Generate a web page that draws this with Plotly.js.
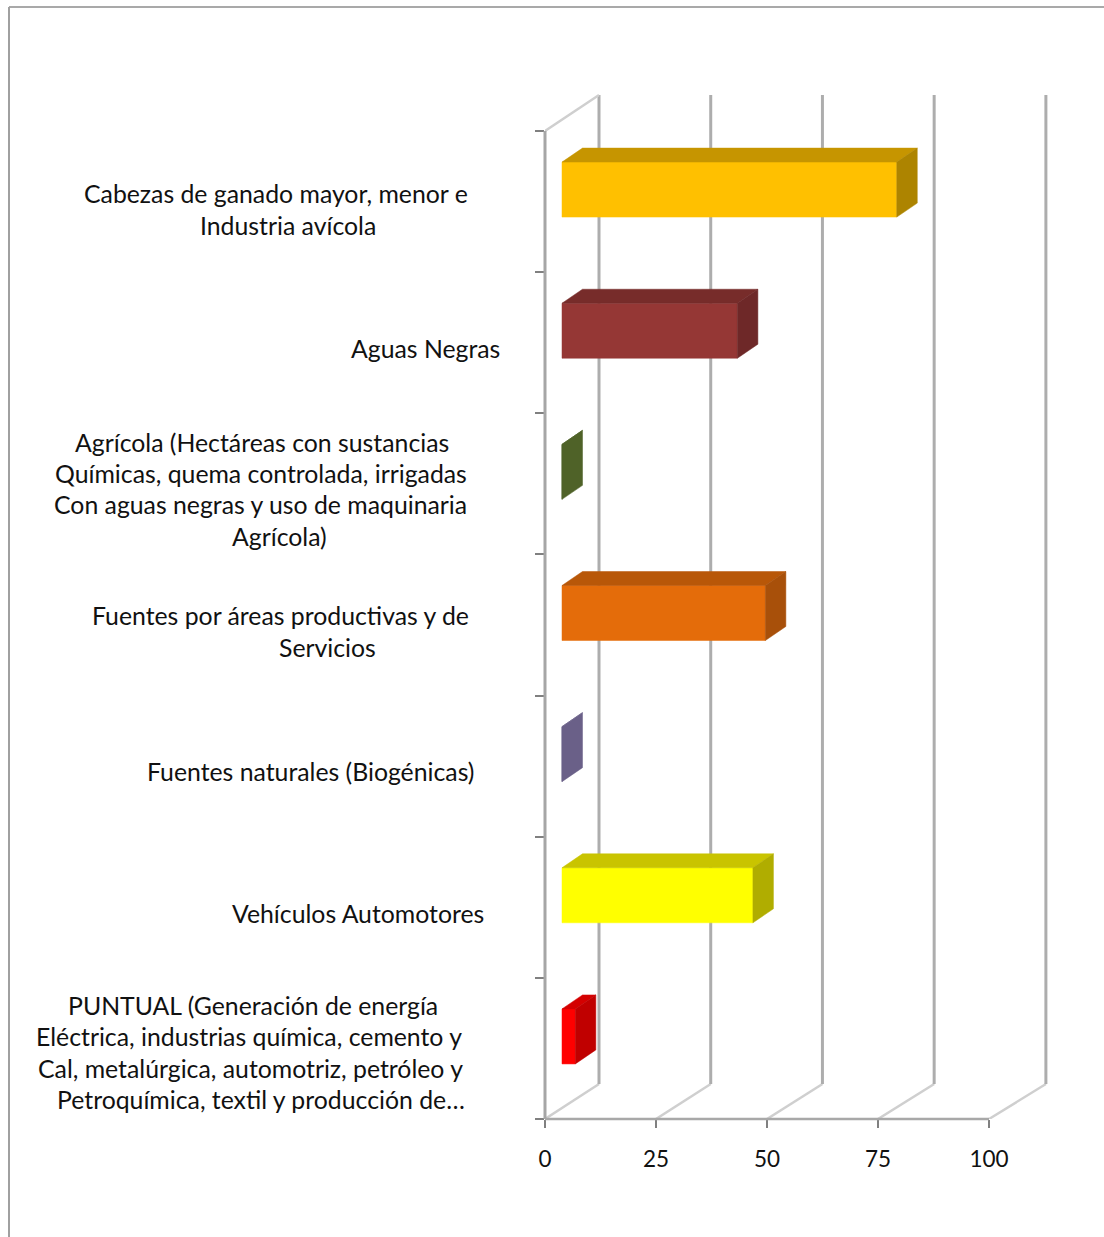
<!DOCTYPE html>
<html>
<head>
<meta charset="utf-8">
<script src="https://cdn.plot.ly/plotly-3.0.1.min.js"></script>
<style>html,body{margin:0;padding:0;background:#fff}#chart{width:1104px;height:1237px}</style>
</head>
<body>
<div id="chart"></div>
<script>
// Data, top to bottom
const categories = [
  "Cabezas de ganado mayor, menor e Industria avícola",
  "Aguas Negras",
  "Agrícola (Hectáreas con sustancias Químicas, quema controlada, irrigadas Con aguas negras y uso de maquinaria Agrícola)",
  "Fuentes por áreas productivas y de Servicios",
  "Fuentes naturales (Biogénicas)",
  "Vehículos Automotores",
  "PUNTUAL (Generación de energía Eléctrica, industrias química, cemento y Cal, metalúrgica, automotriz, petróleo y Petroquímica, textil y producción de…"
];
const values = [75.4, 39.5, 0, 45.8, 0, 43, 3];
const xTicks = [0, 25, 50, 75, 100];

// Tick label line breaks as laid out in the picture
const labelLines = [
  ["Cabezas de ganado mayor, menor e", "Industria avícola"],
  ["Aguas Negras"],
  ["Agrícola (Hectáreas con sustancias", "Químicas, quema controlada, irrigadas", "Con aguas negras y uso de maquinaria", "Agrícola)"],
  ["Fuentes por áreas productivas y de", "Servicios"],
  ["Fuentes naturales (Biogénicas)"],
  ["Vehículos Automotores"],
  ["PUNTUAL (Generación de energía", "Eléctrica, industrias química, cemento y", "Cal, metalúrgica, automotriz, petróleo y", "Petroquímica, textil y producción de…"]
];
// Styles and label placement
const frontColors = ["#FFC000", "#953735", "#4F6228", "#E46C0A", "#6A6088", "#FFFF00", "#FF0000"];
const topColors   = ["#C69500", "#772C2A", "#4F6228", "#B85708", "#6A6088", "#C9C400", "#D40000"];
const sideColors  = ["#AD8400", "#6E2828", "#4F6228", "#A8500A", "#6A6088", "#B0AD00", "#C00000"];
const labelCentersPx = [
  [276, 287.5], [425], [261.5, 260.5, 260, 279.5], [280, 327], [310], [358], [252.5, 249, 250, 260.5]
];
const labelTopPx = [194, 349, 442, 616, 771, 913, 1005];
const lineStepPx = 31.5;

// Plot geometry
const pxPerX = 4.44, pxPerBand = 141.14, backScale = 1.0065;
const L = 545, R = 1060, T = 90, B = 1119, W = 1104, H = 1237;
const xMax = (R - L) / pxPerX, yMax = (B - T) / pxPerBand, nBands = categories.length;
const wallDx = 54 / pxPerX, wallDy = 35 / pxPerBand, wallTop = (B - 95) / pxPerBand;
const barInset = 17 / pxPerX, barRise = 12 / pxPerBand, barH = 55 / pxPerBand;
const barDx = 20.5 / pxPerX, barDy = 14 / pxPerBand;
const FONT = "Lato, Carlito, Calibri, sans-serif";

const traces = [];
function line(xs, ys, color, width) {
  traces.push({type: "scatter", mode: "lines", x: xs, y: ys, hoverinfo: "skip", showlegend: false,
    line: {color: color, width: width, simplify: false}});
}
function poly(xs, ys, color) {
  traces.push({type: "scatter", mode: "lines", x: xs, y: ys, fill: "toself", fillcolor: color, hoverinfo: "skip",
    showlegend: false, line: {color: color, width: 0.5}});
}
// Walls and gridlines
xTicks.forEach(t => {
  const back = t * backScale + wallDx;
  line([t, back], [0, wallDy], "#cfcfcf", 2.5);
  line([back, back], [wallDy, wallTop], "#adadad", 3);
});
line([0, wallDx], [nBands, wallTop], "#cfcfcf", 2.5);

// 3D bars
values.forEach((v, i) => {
  const yc = nBands - i - 0.5 + barRise;
  const y0 = yc - barH / 2, y1 = yc + barH / 2;
  const x0 = barInset, x1 = barInset + v;
  poly([x0, x1, x1, x0, x0], [y0, y0, y1, y1, y0], frontColors[i]);
  poly([x0, x1, x1 + barDx, x0 + barDx, x0], [y1, y1, y1 + barDy, y1 + barDy, y1], topColors[i]);
  poly([x1, x1 + barDx, x1 + barDx, x1, x1], [y0, y0 + barDy, y1 + barDy, y1, y0], sideColors[i]);
});

// Category labels as real text
const annotations = [];
labelLines.forEach((lines, i) => {
  lines.forEach((t, j) => {
    annotations.push({
      text: t, showarrow: false, xref: "paper", yref: "paper", xanchor: "center", yanchor: "middle",
      x: (labelCentersPx[i][j] - L) / (R - L),
      y: (B - (labelTopPx[i] + j * lineStepPx)) / (B - T),
      font: {family: FONT, size: 24.8, color: "#111"}
    });
  });
});

const layout = {
  width: W, height: H, margin: {l: L, r: W - R, t: T, b: H - B},
  paper_bgcolor: "#fff", plot_bgcolor: "rgba(0,0,0,0)", showlegend: false,
  xaxis: {range: [0, xMax], tickmode: "array", tickvals: xTicks, ticktext: xTicks.map(String),
    showgrid: false, zeroline: false, showline: false, ticks: "outside", ticklen: 8, tickwidth: 2.5, tickcolor: "#808080",
    ticklabelstandoff: 12, tickfont: {family: FONT, size: 22.5, color: "#111"}, fixedrange: true},
  yaxis: {range: [0, yMax], tickmode: "array", tickvals: [0, 1, 2, 3, 4, 5, 6, 7], showticklabels: false,
    showgrid: false, zeroline: false, showline: false, ticks: "outside", ticklen: 9, tickwidth: 2, tickcolor: "#808080", fixedrange: true},
  annotations: annotations,
  shapes: [
    // value and category axis lines, on the edge of the plot area
    {type: "line", xref: "paper", yref: "y", x0: 0, x1: 0, y0: 0, y1: nBands, line: {color: "#a6a6a6", width: 3}},
    {type: "line", xref: "x", yref: "paper", x0: 0, x1: 100, y0: 0, y1: 0, line: {color: "#a8a8a8", width: 2.5}},
    // picture frame
    {type: "line", xref: "paper", yref: "paper", x0: (9 - L) / (R - L), x1: (W - L) / (R - L),
      y0: (B - 7) / (B - T), y1: (B - 7) / (B - T), line: {color: "#8c8c8c", width: 1.5}},
    {type: "line", xref: "paper", yref: "paper", x0: (9 - L) / (R - L), x1: (9 - L) / (R - L),
      y0: (B - 7) / (B - T), y1: (B - H) / (B - T), line: {color: "#a0a0a0", width: 2}}
  ]
};
Plotly.newPlot("chart", traces, layout, {displayModeBar: false, staticPlot: true});
</script>
</body>
</html>
